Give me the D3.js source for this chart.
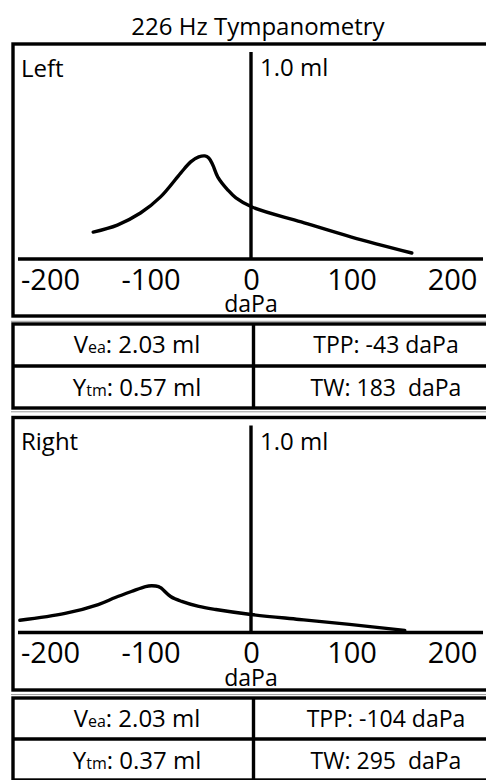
<!DOCTYPE html>
<html>
<head>
<meta charset="utf-8">
<script src="https://cdn.jsdelivr.net/npm/d3@7"></script>
<style>
  html, body { margin: 0; padding: 0; background: #fff; }
  svg { display: block; font-family: "Open Sans", "Noto Sans", sans-serif; }
</style>
</head>
<body>
<svg id="chart" width="486" height="780"></svg>
<script>
// ---- data ----
const chartTitle = "226 Hz Tympanometry";
const pressureTicks = [-200, -100, 0, 100, 200];
const earNames = ["Left", "Right"];

// admittance (ml) against ear-canal pressure (daPa)
const leftPressure   = [-157, -133, -110, -90, -70, -60, -52, -46, -42, -38, -33, -23, -15, 1, 50, 100, 160];
const leftAdmittance = [0.130, 0.164, 0.222, 0.300, 0.415, 0.469, 0.493, 0.498, 0.488, 0.454, 0.396, 0.333, 0.295, 0.251, 0.179, 0.106, 0.029];
const rightPressure   = [-230, -185, -152, -135, -119, -105, -99, -92, -89, -80, -69, -52, -35, 0, 48, 98, 153];
const rightAdmittance = [0.059, 0.092, 0.135, 0.169, 0.198, 0.222, 0.226, 0.222, 0.213, 0.174, 0.150, 0.126, 0.111, 0.087, 0.063, 0.039, 0.010];

const veaValues = ["2.03 ml", "2.03 ml"];
const ytmValues = ["0.57 ml", "0.37 ml"];
const tppValues = ["-43 daPa", "-104 daPa"];
const twValues  = ["183  daPa", "295  daPa"];

// ---- layout ----
const svg = d3.select("#chart");
const boxLeft = 13, boxWidth = 530, stroke = 3.4;
const panelTops = [44, 417.5];
const panelBottoms = [316, 690];
const tableTops = [324, 698];
const tableRowH = [42, 41];
const colSplit = 253.5;
const separators = [321.3, 411.8, 694.6];

const x = d3.scaleLinear().domain([-200, 200]).range([50, 452]);

svg.append("text")
  .attr("x", 258).attr("y", 35)
  .attr("text-anchor", "middle")
  .attr("font-size", 24)
  .text(chartTitle);

separators.forEach(yy => {
  svg.append("line")
    .attr("x1", 11).attr("x2", 486).attr("y1", yy).attr("y2", yy)
    .attr("stroke", "#9a9a9a").attr("stroke-width", 1);
});

const curves = [
  leftPressure.map((p, i) => [p, leftAdmittance[i]]),
  rightPressure.map((p, i) => [p, rightAdmittance[i]])
];

earNames.forEach((ear, i) => {
  const top = panelTops[i];
  const y = d3.scaleLinear().domain([0, 1]).range([top + 215, top + 8]);
  const g = svg.append("g");

  // panel frame
  g.append("rect")
    .attr("x", boxLeft).attr("y", top)
    .attr("width", boxWidth).attr("height", panelBottoms[i] - top)
    .attr("fill", "none").attr("stroke", "#000").attr("stroke-width", stroke);

  // pressure axis baseline and zero line
  g.append("line")
    .attr("x1", 18).attr("x2", 483)
    .attr("y1", y(0)).attr("y2", y(0))
    .attr("stroke", "#000").attr("stroke-width", stroke);
  g.append("line")
    .attr("x1", x(0)).attr("x2", x(0))
    .attr("y1", y(1)).attr("y2", y(0))
    .attr("stroke", "#000").attr("stroke-width", stroke);

  const axis = d3.axisBottom(x)
    .tickValues(pressureTicks)
    .tickSize(0)
    .tickPadding(10)
    .tickFormat(d => String(d));
  const ag = g.append("g").attr("transform", `translate(0,${y(0)})`).call(axis);
  ag.select(".domain").remove();
  ag.selectAll("text")
    .attr("font-family", "\"Open Sans\", sans-serif")
    .attr("font-size", 29)
    .attr("fill", "#000");

  g.append("text")
    .attr("x", x(0)).attr("y", top + 268)
    .attr("text-anchor", "middle")
    .attr("font-size", 23)
    .text("daPa");

  g.append("text")
    .attr("x", 21).attr("y", top + 32.5)
    .attr("font-size", 24)
    .text(ear);
  g.append("text")
    .attr("x", x(0) + 9).attr("y", top + 32)
    .attr("font-size", 24)
    .text("1.0 ml");

  // tympanogram
  const line = d3.line()
    .x(d => x(d[0]))
    .y(d => y(d[1]))
    .curve(d3.curveCatmullRom.alpha(0.5));
  g.append("path")
    .datum(curves[i])
    .attr("d", line)
    .attr("fill", "none")
    .attr("stroke", "#000")
    .attr("stroke-width", stroke)
    .attr("stroke-linecap", "round")
    .attr("stroke-linejoin", "round");

  // measurement table
  const tt = tableTops[i], rh = tableRowH[i];
  const tg = svg.append("g");
  tg.append("rect")
    .attr("x", boxLeft).attr("y", tt)
    .attr("width", boxWidth).attr("height", rh * 2)
    .attr("fill", "none").attr("stroke", "#000").attr("stroke-width", stroke);
  tg.append("line")
    .attr("x1", boxLeft).attr("x2", boxLeft + boxWidth)
    .attr("y1", tt + rh).attr("y2", tt + rh)
    .attr("stroke", "#000").attr("stroke-width", stroke);
  tg.append("line")
    .attr("x1", colSplit).attr("x2", colSplit)
    .attr("y1", tt).attr("y2", tt + rh * 2)
    .attr("stroke", "#000").attr("stroke-width", stroke);

  const leftC = 137, rightC = 386;
  const rows = [
    { sym: "V", sub: "ea", val: veaValues[i], right: "TPP: " + tppValues[i] },
    { sym: "Y", sub: "tm", val: ytmValues[i], right: "TW: " + twValues[i] }
  ];
  rows.forEach((r, k) => {
    const by = tt + 29 + k * (rh + 0.5);
    const t = tg.append("text")
      .attr("x", leftC).attr("y", by)
      .attr("text-anchor", "middle")
      .attr("font-size", 24)
      .attr("xml:space", "preserve");
    t.append("tspan").text(r.sym);
    t.append("tspan").attr("font-size", 16).text(r.sub);
    t.append("tspan").text(": " + r.val);
    tg.append("text")
      .attr("x", rightC).attr("y", by)
      .attr("text-anchor", "middle")
      .attr("font-size", 23)
      .attr("xml:space", "preserve")
      .text(r.right);
  });
});
</script>
</body>
</html>
